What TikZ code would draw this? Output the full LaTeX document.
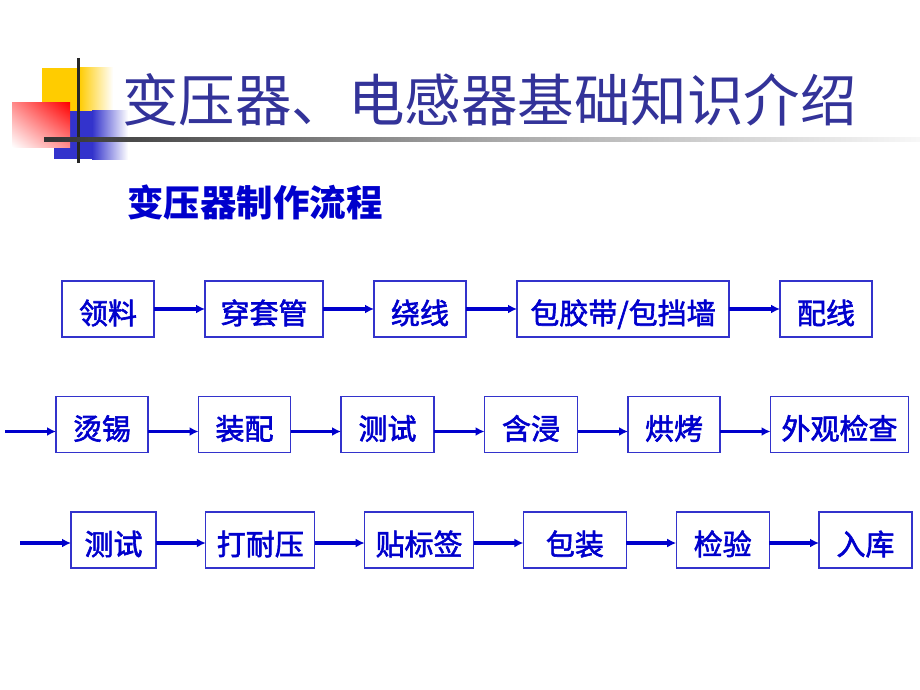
\documentclass[tikz,border=0pt]{standalone}
\usepackage{fontspec}
\newfontfamily\cjk{Noto Sans CJK SC}
\newfontfamily\cjkbox{Noto Sans CJK SC}[FakeBold=2]
\usetikzlibrary{arrows.meta,positioning,shadings}

\definecolor{flowblue}{RGB}{0,0,204}
\definecolor{boxline}{RGB}{51,51,204}
\definecolor{titleblue}{RGB}{51,51,153}
\definecolor{logoyellow}{RGB}{255,204,0}
\definecolor{logoblue}{RGB}{51,51,204}

\begin{document}
\begin{tikzpicture}[x=1pt,y=-1pt,node distance=50pt,
    procbox/.style={draw=boxline,line width=1.2pt,text=flowblue,minimum width=92pt,
      minimum height=56pt,inner sep=2pt,outer sep=0pt,text height=30pt,text depth=0pt,
      font=\cjkbox\fontsize{29}{34}\selectfont},
    flow/.style={draw=flowblue,line width=3.4pt,-{Latex[length=9pt,width=9pt]}}]
  \useasboundingbox (0,0) rectangle (920,690);

  % logo
  \fill[logoyellow] (42,68) rectangle (79,111);
  \shade[left color=logoyellow,right color=white] (79,68) rectangle (113,111);
  \fill[logoblue] (54,111) rectangle (92,159);
  \shade[left color=logoblue,right color=white] (92,111) rectangle (128,159);
  \shade[upper right=red,lower left=white,upper left=red!45!white,lower right=red!45!white]
    (12,103) rectangle (70,147);
  \draw[line width=3pt,black!85] (78,58) -- (78,163);
  \shade[left color=black!80,right color=black!3,middle color=black!35] (44,137) rectangle (920,141);

  % titles
  \node[anchor=west,inner sep=0pt,text=titleblue,font=\cjk\fontsize{56.5}{60}\selectfont]
    (title) at (122,100) {变压器、电感器基础知识介绍};
  \node[anchor=west,inner sep=0pt,text=flowblue,font=\cjk\bfseries\fontsize{36.5}{40}\selectfont]
    (subtitle) at (127,202) {变压器制作流程};

  % row 1
  \begin{scope}[node distance=51pt]
    \node[procbox] (lingliao) at (108,309) {领料};
    \node[procbox,minimum width=118pt,right=of lingliao] (chuantao) {穿套管};
    \node[procbox,right=of chuantao] (raoxian) {绕线};
    \node[procbox,minimum width=212pt,right=of raoxian] (baojiao) {包胶带/包挡墙};
    \node[procbox,right=of baojiao] (peixian) {配线};
  \end{scope}
  \draw[flow] (lingliao) -- (chuantao);
  \draw[flow] (chuantao) -- (raoxian);
  \draw[flow] (raoxian) -- (baojiao);
  \draw[flow] (baojiao) -- (peixian);

  % row 2
  \begin{scope}[node distance=50.5pt]
    \node[procbox] (tangxi) at (102,424.5) {烫锡};
    \node[procbox,right=of tangxi] (zhuangpei) {装配};
    \node[procbox,minimum width=93pt,right=of zhuangpei] (ceshia) {测试};
    \node[procbox,minimum width=93pt,right=of ceshia] (hanjin) {含浸};
    \node[procbox,right=of hanjin] (hongkao) {烘烤};
    \node[procbox,minimum width=138pt,right=of hongkao] (waiguan) {外观检查};
  \end{scope}
  \coordinate (inb) at (5,431.5);
  \draw[flow] (inb) -- ([yshift=-7pt]tangxi.west);
  \draw[flow] ([yshift=-7pt]tangxi.east) -- ([yshift=-7pt]zhuangpei.west);
  \draw[flow] ([yshift=-7pt]zhuangpei.east) -- ([yshift=-7pt]ceshia.west);
  \draw[flow] ([yshift=-7pt]ceshia.east) -- ([yshift=-7pt]hanjin.west);
  \draw[flow] ([yshift=-7pt]hanjin.east) -- ([yshift=-7pt]hongkao.west);
  \draw[flow] ([yshift=-7pt]hongkao.east) -- ([yshift=-7pt]waiguan.west);

  % row 3
  \begin{scope}[node distance=49.8pt]
    \node[procbox,minimum width=85pt] (ceshib) at (113.5,540) {测试};
    \node[procbox,minimum width=109pt,right=of ceshib] (naiya) {打耐压};
    \node[procbox,minimum width=109pt,right=of naiya] (biaoqian) {贴标签};
    \node[procbox,minimum width=103pt,right=of biaoqian] (baozhuang) {包装};
    \node[procbox,minimum width=93pt,right=of baozhuang] (jianyan) {检验};
    \node[procbox,minimum width=93pt,right=of jianyan] (ruku) {入库};
  \end{scope}
  \coordinate (inc) at (20,543);
  \draw[flow] (inc) -- ([yshift=-3pt]ceshib.west);
  \draw[flow] ([yshift=-3pt]ceshib.east) -- ([yshift=-3pt]naiya.west);
  \draw[flow] ([yshift=-3pt]naiya.east) -- ([yshift=-3pt]biaoqian.west);
  \draw[flow] ([yshift=-3pt]biaoqian.east) -- ([yshift=-3pt]baozhuang.west);
  \draw[flow] ([yshift=-3pt]baozhuang.east) -- ([yshift=-3pt]jianyan.west);
  \draw[flow] ([yshift=-3pt]jianyan.east) -- ([yshift=-3pt]ruku.west);
\end{tikzpicture}
\end{document}
